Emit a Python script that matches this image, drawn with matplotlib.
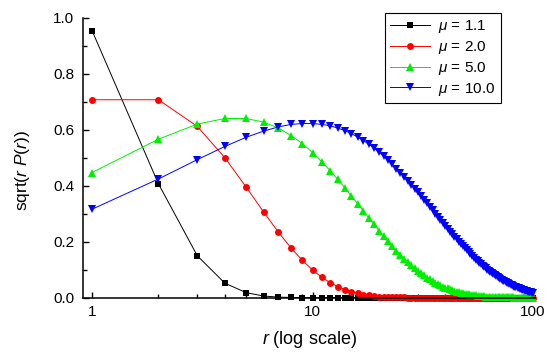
import numpy as np
import matplotlib
matplotlib.use("Agg")
import matplotlib.pyplot as plt
from matplotlib.ticker import MultipleLocator, NullFormatter, FormatStrFormatter, LogLocator

plt.rcParams['font.family'] = ['Liberation Sans', 'DejaVu Sans']
plt.rcParams['mathtext.fontset'] = 'custom'
plt.rcParams['mathtext.rm'] = 'Liberation Sans'
plt.rcParams['mathtext.it'] = 'Liberation Sans:italic'

# r = 1 .. 100
r = np.arange(1, 101)

mu_labels = ['1.1', '2.0', '5.0', '10.0']

mu_1_1 = [0.954, 0.407, 0.150, 0.052, 0.018, 0.006, 0.002, 0.001] + [0.0] * 92

mu_2_0 = [0.707, 0.707, 0.612, 0.500, 0.395, 0.306, 0.234, 0.177, 0.133, 0.099,
          0.073, 0.054, 0.040, 0.029, 0.021, 0.016, 0.011, 0.008, 0.006, 0.004,
          0.003, 0.002, 0.002, 0.001, 0.001, 0.001] + [0.0] * 74

mu_5_0 = [0.447, 0.566, 0.620, 0.640, 0.640, 0.627, 0.606, 0.579, 0.550, 0.518,
          0.486, 0.454, 0.423, 0.392, 0.363, 0.336, 0.309, 0.285, 0.262, 0.240,
          0.220, 0.201, 0.184, 0.168, 0.154, 0.140, 0.128, 0.116, 0.106, 0.096,
          0.088, 0.080, 0.072, 0.066, 0.060, 0.054, 0.049, 0.044, 0.040, 0.036,
          0.033, 0.030, 0.027, 0.024, 0.022, 0.020, 0.018, 0.016, 0.015, 0.013,
          0.012, 0.011, 0.010, 0.009, 0.008, 0.007, 0.007, 0.006, 0.005, 0.005,
          0.004, 0.004, 0.004, 0.003, 0.003, 0.003, 0.002, 0.002, 0.002, 0.002,
          0.002, 0.001, 0.001, 0.001, 0.001, 0.001, 0.001, 0.001, 0.001, 0.001,
          0.001] + [0.0] * 19

mu_10_0 = [0.316, 0.424, 0.493, 0.540, 0.573, 0.595, 0.610, 0.619, 0.622, 0.622,
           0.619, 0.614, 0.606, 0.597, 0.586, 0.574, 0.561, 0.548, 0.534, 0.520,
           0.505, 0.491, 0.476, 0.461, 0.447, 0.432, 0.418, 0.404, 0.390, 0.376,
           0.363, 0.349, 0.337, 0.324, 0.312, 0.300, 0.289, 0.278, 0.267, 0.256,
           0.246, 0.236, 0.227, 0.218, 0.209, 0.200, 0.192, 0.184, 0.177, 0.169,
           0.162, 0.155, 0.149, 0.142, 0.136, 0.131, 0.125, 0.120, 0.114, 0.110,
           0.105, 0.100, 0.096, 0.092, 0.088, 0.084, 0.080, 0.076, 0.073, 0.070,
           0.067, 0.064, 0.061, 0.058, 0.056, 0.053, 0.051, 0.048, 0.046, 0.044,
           0.042, 0.040, 0.038, 0.037, 0.035, 0.033, 0.032, 0.030, 0.029, 0.028,
           0.026, 0.025, 0.024, 0.023, 0.022, 0.021, 0.020, 0.019, 0.018, 0.017]

series = [mu_1_1, mu_2_0, mu_5_0, mu_10_0]
colors = ['#000000', '#ff0000', '#00ee00', '#0000ff']
markers = ['s', 'o', '^', 'v']
msizes = [4.8, 5.0, 6.0, 6.0]

fig = plt.figure(figsize=(5.48, 3.52), dpi=100)
ax = fig.add_axes([83 / 548, 1 - 297.7 / 352, 452 / 548, 280 / 352])

for y, c, m, ms, lab in zip(series, colors, markers, msizes, mu_labels):
    ax.plot(r, y, color=c, lw=0.7, marker=m, markersize=ms, markeredgewidth=0,
            label=r'$\mu$ = ' + lab, clip_on=False)

ax.set_xscale('log')
ax.set_xlim(0.91, 102)
ax.set_ylim(0, 1.0)

ax.set_xticks([1, 10, 100])
ax.set_xticklabels(['1', '10', '100'])
ax.xaxis.set_minor_locator(LogLocator(base=10, subs=np.arange(2, 10)))
ax.xaxis.set_minor_formatter(NullFormatter())
ax.yaxis.set_major_locator(MultipleLocator(0.2))
ax.yaxis.set_minor_locator(MultipleLocator(0.1))
ax.yaxis.set_major_formatter(FormatStrFormatter('%.1f'))

ax.spines['top'].set_visible(False)
ax.spines['right'].set_visible(False)
for s in ['left', 'bottom']:
    ax.spines[s].set_linewidth(1.1)

ax.tick_params(which='major', direction='in', length=4.5, width=1.0, labelsize=11)
ax.tick_params(axis='x', which='major', pad=5)
ax.tick_params(axis='y', which='major', pad=6.3)
ax.tick_params(which='minor', direction='in', length=2.8, width=1.0)

ax.set_xlabel(r'$r$ (log scale)', fontsize=13, va='top')
ax.xaxis.set_label_coords(0.5, -0.11)
ax.set_ylabel(r'sqrt($r$ $P$($r$))', fontsize=12.5)
ax.yaxis.set_label_coords(-0.113, 0.456)

leg = ax.legend(loc='upper right', bbox_to_anchor=(501 / 548, 1 - 13 / 352),
                bbox_transform=fig.transFigure, borderaxespad=0, fontsize=11,
                numpoints=1, handlelength=2.6, handletextpad=0.55,
                labelspacing=0.25, borderpad=0.35, fancybox=False, framealpha=1)
leg.get_frame().set_edgecolor('black')
leg.get_frame().set_linewidth(0.8)

fig.savefig('out.png', dpi=100)
